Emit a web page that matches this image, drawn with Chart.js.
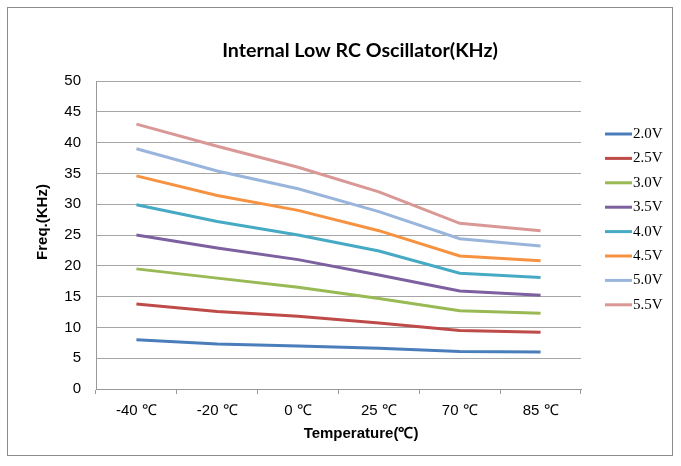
<!DOCTYPE html>
<html>
<head>
<meta charset="utf-8">
<script src="https://cdn.jsdelivr.net/npm/chart.js@4"></script>
<style>
    html, body { margin: 0; padding: 0; background: #fff; }
    #wrap { position: relative; width: 681px; height: 466px; }
</style>
</head>
<body>
<div id="wrap"><canvas id="chart" width="681" height="466"></canvas></div>
<script>
// categories (x axis) and y axis ticks
const temperatures = ["-40 ℃", "-20 ℃", "0 ℃", "25 ℃", "70 ℃", "85 ℃"];
const yTicks = [0, 5, 10, 15, 20, 25, 30, 35, 40, 45, 50];

// frequency (KHz) per supply voltage
const v20 = [8.0, 7.3, 7.0, 6.6, 6.1, 6.0];
const v25 = [13.8, 12.6, 11.8, 10.7, 9.5, 9.2];
const v30 = [19.5, 18.0, 16.5, 14.7, 12.7, 12.3];
const v35 = [25.0, 22.9, 21.0, 18.5, 15.9, 15.2];
const v40 = [29.9, 27.2, 25.0, 22.4, 18.8, 18.1];
const v45 = [34.6, 31.4, 29.0, 25.7, 21.6, 20.8];
const v50 = [39.0, 35.4, 32.5, 28.8, 24.4, 23.2];
const v55 = [43.0, 39.4, 36.0, 32.0, 26.9, 25.7];

const seriesNames = ["2.0V", "2.5V", "3.0V", "3.5V", "4.0V", "4.5V", "5.0V", "5.5V"];
const seriesValues = [v20, v25, v30, v35, v40, v45, v50, v55];
const seriesColors = ["#4a7ebb", "#be4b48", "#98b954", "#7d60a0", "#46aac5", "#f69240", "#9ab5dc", "#d99896"];

const tickFont = "'Liberation Sans Narrow', 'Liberation Sans', sans-serif";

// title, axis titles, legend and frame drawn on top of the chart
const decorations = {
    id: "decorations",
    afterDraw(chart) {
        const ctx = chart.ctx;
        ctx.save();

        // outer frame
        ctx.strokeStyle = "#8c8c8c";
        ctx.lineWidth = 1;
        ctx.strokeRect(7.5, 7.5, 665, 448);

        ctx.fillStyle = "#000";
        ctx.textAlign = "center";
        ctx.textBaseline = "middle";

        ctx.font = "bold 19.6px Lato, 'Open Sans', sans-serif";
        ctx.fillText("Internal Low RC Oscillator(KHz)", 360, 51);

        ctx.font = "bold 15px 'Liberation Sans', sans-serif";
        ctx.fillText("Temperature(℃)", 361, 434);

        ctx.save();
        ctx.translate(43, 222);
        ctx.rotate(-Math.PI / 2);
        ctx.fillText("Freq.(KHz)", 0, 0);
        ctx.restore();

        // legend
        ctx.textAlign = "left";
        ctx.font = "15px 'Liberation Serif', serif";
        chart.data.datasets.forEach((ds, i) => {
            const y = 134 + i * 24.4;
            ctx.strokeStyle = ds.borderColor;
            ctx.lineWidth = 3;
            ctx.beginPath();
            ctx.moveTo(605, y);
            ctx.lineTo(632, y);
            ctx.stroke();
            ctx.fillStyle = "#000";
            ctx.fillText(ds.label, 633, y);
        });

        ctx.restore();
    }
};

new Chart(document.getElementById("chart"), {
    type: "line",
    data: {
        labels: temperatures,
        datasets: seriesNames.map((name, i) => ({
            label: name,
            data: seriesValues[i],
            borderColor: seriesColors[i],
            backgroundColor: seriesColors[i],
            borderWidth: 3,
            pointRadius: 0,
            tension: 0
        }))
    },
    options: {
        responsive: false,
        animation: false,
        layout: { padding: { top: 81, left: 0, right: 100, bottom: 0 } },
        plugins: {
            legend: { display: false },
            title: { display: false },
            tooltip: { enabled: false }
        },
        scales: {
            x: {
                offset: true,
                afterFit: scale => { scale.height = 77; },
                grid: {
                    offset: true,
                    drawOnChartArea: false,
                    drawTicks: true,
                    tickLength: 5,
                    color: "#999"
                },
                border: { display: true, color: "#999" },
                ticks: {
                    color: "#000",
                    padding: 8,
                    maxRotation: 0,
                    font: { family: tickFont, size: 15 }
                }
            },
            y: {
                min: 0,
                max: 50,
                afterFit: scale => { scale.width = 96; },
                afterBuildTicks: axis => { axis.ticks = yTicks.map(v => ({ value: v })); },
                grid: { color: "#a6a6a6", drawTicks: false },
                border: { display: true, color: "#999" },
                ticks: {
                    color: "#000",
                    padding: 15,
                    font: { family: tickFont, size: 15 }
                }
            }
        }
    },
    plugins: [decorations]
});
</script>
</body>
</html>
